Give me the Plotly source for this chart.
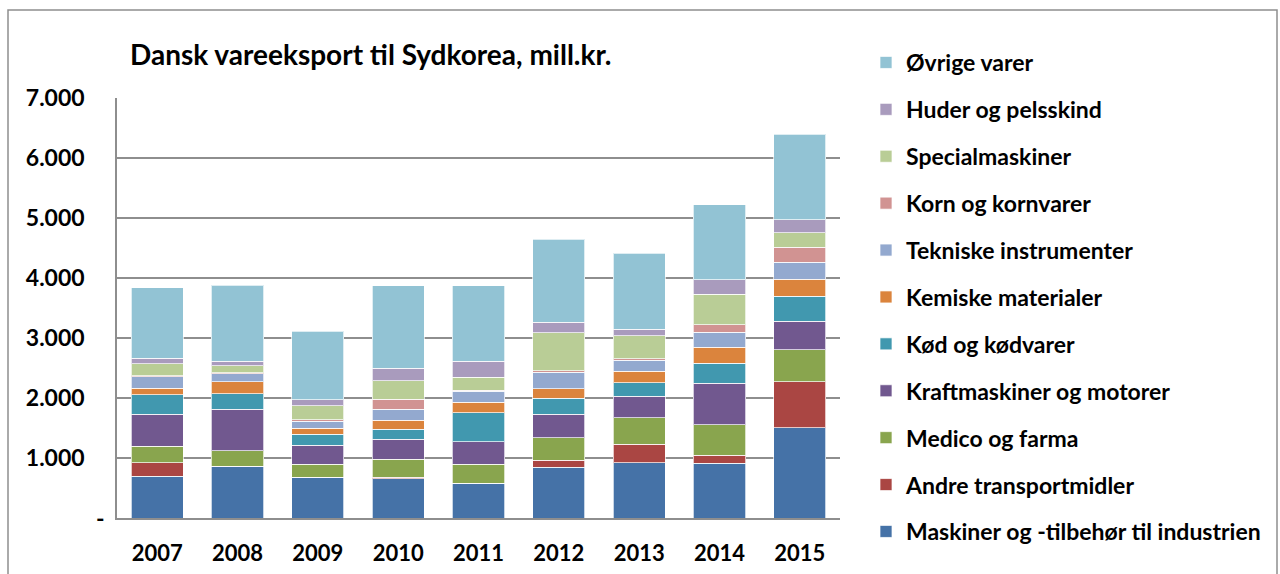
import plotly.graph_objects as go

years = ["2007", "2008", "2009", "2010", "2011", "2012", "2013", "2014", "2015"]

maskiner = [696, 863, 679, 656, 578, 850, 917, 911, 1506]
andre_transport = [224, 0, 0, 22, 0, 111, 316, 139, 761]
medico = [272, 262, 221, 300, 322, 378, 434, 506, 539]
kraftmaskiner = [535, 691, 314, 333, 372, 394, 366, 694, 477]
kod = [330, 258, 179, 167, 484, 261, 223, 333, 411]
kemiske = [105, 194, 105, 150, 172, 162, 188, 261, 284]
tekniske = [196, 140, 117, 183, 183, 272, 189, 250, 283]
korn = [15, 17, 20, 167, 22, 28, 23, 123, 250]
special = [196, 110, 238, 311, 217, 633, 383, 511, 245]
huder = [90, 74, 100, 205, 261, 172, 105, 239, 211]
ovrige = [1175, 1271, 1142, 1373, 1261, 1383, 1267, 1250, 1433]

series_names = [
    "Maskiner og -tilbehør til industrien",
    "Andre transportmidler",
    "Medico og farma",
    "Kraftmaskiner og motorer",
    "Kød og kødvarer",
    "Kemiske materialer",
    "Tekniske instrumenter",
    "Korn og kornvarer",
    "Specialmaskiner",
    "Huder og pelsskind",
    "Øvrige varer",
]
series_values = [maskiner, andre_transport, medico, kraftmaskiner, kod, kemiske,
                 tekniske, korn, special, huder, ovrige]
colors = ["#4572A7", "#AA4643", "#89A54E", "#71588F", "#4198AF", "#DB843D",
          "#93A9CF", "#D19392", "#B9CD96", "#A99BBD", "#92C3D4"]

y_tickvals = [0, 1000, 2000, 3000, 4000, 5000, 6000, 7000]
y_ticktext = ["", "1.000", "2.000", "3.000", "4.000", "5.000", "6.000", "7.000"]
zero_label = "-"

FONT = "Lato"

fig = go.Figure()
for i, (name, vals, col) in enumerate(zip(series_names, series_values, colors)):
    fig.add_trace(go.Bar(
        x=years, y=vals, name="<b>" + name + "</b>", legendgroup=name,
        legendrank=1000 - i,
        marker=dict(color=col, line=dict(color="rgba(255,255,255,0.7)", width=1)),
    ))

# plot area pixel geometry
L, R, T, B = 117, 840, 98, 518
W, H = 1280, 574
pw, ph = R - L, B - T

def px_x(p):
    return (p - L) / pw

def px_y(p):
    return (B - p) / ph

fig.update_layout(
    width=W, height=H,
    barmode="stack", bargap=0.35,
    paper_bgcolor="white", plot_bgcolor="white",
    margin=dict(l=L, r=W - R, t=T, b=H - B, autoexpand=False),
    font=dict(family=FONT, color="black"),
    title=dict(
        text="<b>Dansk vareeksport til Sydkorea, mill.kr.</b>",
        font=dict(family=FONT, size=28, color="black"),
        xref="container", yref="container",
        x=130 / W, xanchor="left", y=1 - 55 / H, yanchor="middle",
    ),
    legend=dict(
        traceorder="grouped", tracegroupgap=14,
        x=px_x(866), xanchor="left", y=px_y(41), yanchor="top",
        font=dict(family=FONT, size=23, color="black"),
        bgcolor="rgba(0,0,0,0)", maxheight=570,
    ),
    xaxis=dict(
        showline=True, linecolor="#8E8E8E", linewidth=1.5,
        ticks="", tickfont=dict(family=FONT, size=22, weight="bold"),
        ticklabelstandoff=15,
    ),
    yaxis=dict(
        range=[0, 7000], tickvals=y_tickvals, ticktext=y_ticktext,
        showgrid=True, gridcolor="#8E8E8E", gridwidth=1.5,
        showline=True, linecolor="#8E8E8E", linewidth=1.5,
        zeroline=False, ticks="",
        tickfont=dict(family=FONT, size=23, weight="bold"),
        ticklabelstandoff=26,
    ),
    annotations=[dict(
        text="<b>" + zero_label + "</b>", xref="paper", yref="y",
        x=px_x(100), y=y_tickvals[0], xanchor="center", yanchor="middle",
        showarrow=False, font=dict(family=FONT, size=23, color="black"),
    )],
    shapes=[dict(
        type="rect", xref="paper", yref="paper", layer="below",
        x0=px_x(8), x1=px_x(1277), y0=px_y(600), y1=px_y(10),
        line=dict(color="#8E8E8E", width=1.5), fillcolor="rgba(0,0,0,0)",
    )],
)

fig.write_html("out.html", config={"displayModeBar": False},
               post_script="document.body.style.margin='0';")
